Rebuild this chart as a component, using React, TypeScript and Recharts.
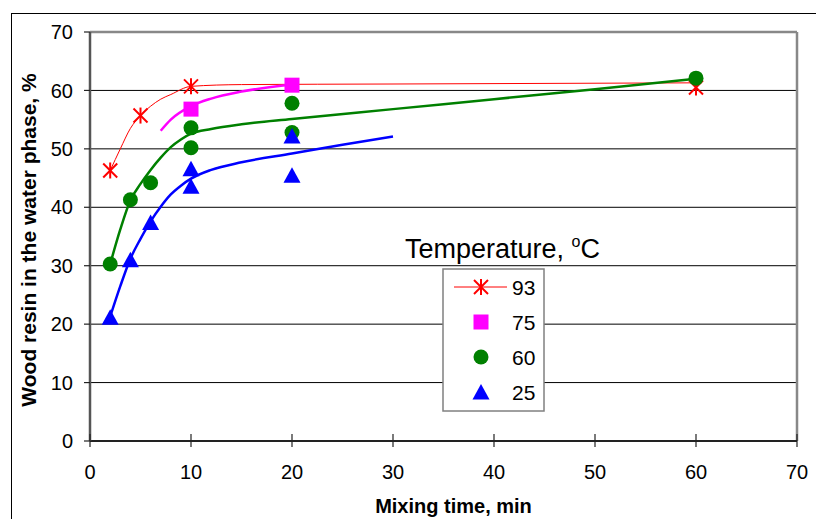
import React from "react";
import {
  ComposedChart,
  Line,
  Scatter,
  XAxis,
  YAxis,
  CartesianGrid,
  ReferenceLine,
} from "recharts";

// Measured points (marker series)
const time93 = [2, 5, 10, 60];
const resin93 = [46.3, 55.7, 60.7, 60.5];
const time75 = [10, 20];
const resin75 = [56.8, 60.9];
const time60 = [2, 4, 6, 10, 10, 20, 20, 60];
const resin60 = [30.3, 41.3, 44.2, 53.6, 50.2, 57.8, 52.8, 62.1];
const time25 = [2, 4, 6, 10, 10, 20, 20];
const resin25 = [21.2, 31.0, 37.4, 46.6, 43.6, 52.2, 45.5];

// Fitted trend curves
const fitTime93 = [2, 3, 4, 5, 6, 7, 8, 10, 15, 30, 60];
const fitResin93 = [46.3, 50.0, 53.5, 55.7, 57.3, 58.5, 59.3, 60.7, 61.0, 61.1, 61.3];
const fitTime75 = [7, 8, 10, 12, 15, 20];
const fitResin75 = [53.1, 55.0, 57.3, 58.6, 59.8, 61.0];
const fitTime60 = [2, 3, 4, 5, 6, 7, 8, 9, 10, 12, 15, 20, 30, 40, 50, 60];
const fitResin60 = [30.3, 36.2, 41.2, 44.0, 46.4, 48.5, 50.3, 51.6, 52.6, 53.4, 54.2, 55.1, 56.8, 58.5, 60.2, 62.0];
const fitTime25 = [2, 3, 4, 5, 6, 7, 8, 9, 10, 12, 15, 20, 25, 30];
const fitResin25 = [21.3, 26.5, 31.2, 34.6, 37.6, 40.1, 42.2, 43.7, 44.9, 46.4, 47.7, 49.2, 50.7, 52.1];

const xTicks = [0, 10, 20, 30, 40, 50, 60, 70];
const yTicks = [0, 10, 20, 30, 40, 50, 60, 70];
const legendLabels = ["93", "75", "60", "25"];

const zip = (xs: number[], ys: number[]) => xs.map((x, i) => ({ x, y: ys[i] }));

const pts93 = zip(time93, resin93);
const pts75 = zip(time75, resin75);
const pts60 = zip(time60, resin60);
const pts25 = zip(time25, resin25);
const fit93 = zip(fitTime93, fitResin93);
const fit75 = zip(fitTime75, fitResin75);
const fit60 = zip(fitTime60, fitResin60);
const fit25 = zip(fitTime25, fitResin25);

const RED = "#ff0000";
const MAGENTA = "#ff00ff";
const GREEN = "#008000";
const BLUE = "#0000ff";
const FONT = "'Liberation Sans', Arial, sans-serif";

const Star = (cx: number, cy: number) => (
  <g stroke={RED} strokeWidth={2} fill="none">
    <line x1={cx} y1={cy - 8} x2={cx} y2={cy + 8} />
    <line x1={cx - 7} y1={cy - 7} x2={cx + 7} y2={cy + 7} />
    <line x1={cx - 7} y1={cy + 7} x2={cx + 7} y2={cy - 7} />
  </g>
);
const Square = (cx: number, cy: number) => (
  <rect x={cx - 7.5} y={cy - 7.5} width={15} height={15} fill={MAGENTA} />
);
const Circle = (cx: number, cy: number) => <circle cx={cx} cy={cy} r={7.5} fill={GREEN} />;
const Tri = (cx: number, cy: number) => (
  <polygon
    points={`${cx},${cy - 8} ${cx + 8.5},${cy + 7.5} ${cx - 8.5},${cy + 7.5}`}
    fill={BLUE}
  />
);

const shapeOf = (fn: (cx: number, cy: number) => React.ReactElement) => (p: any) =>
  fn(p.cx, p.cy);

const X_MARGIN = 24;
const XTick = (props: any) => {
  const { x, y, payload } = props;
  const axisY = y - X_MARGIN;
  return (
    <g>
      <line x1={x} y1={axisY - 7} x2={x} y2={axisY + 6} stroke="#222" strokeWidth={1.2} />
      <text
        x={x}
        y={y}
        dy="0.71em"
        textAnchor="middle"
        fontSize={20}
        fontFamily={FONT}
        fill="#000"
      >
        {payload.value}
      </text>
    </g>
  );
};

export default function App() {
  return (
    <div
      style={{
        position: "absolute",
        left: 0,
        top: 0,
        width: 816,
        height: 519,
        overflow: "hidden",
        background: "#fff",
      }}
    >
      <div
        style={{
          position: "absolute",
          left: 11,
          top: 13,
          width: 900,
          height: 600,
          border: "1.5px solid #000",
        }}
      />
      <div style={{ position: "absolute", left: 0, top: 0 }}>
        <ComposedChart
          width={816}
          height={519}
          margin={{ top: 32, right: 19, bottom: 38, left: 30 }}
        >
          <CartesianGrid vertical={false} stroke="#000" strokeWidth={1} />
          <XAxis
            type="number"
            dataKey="x"
            domain={[0, 70]}
            ticks={xTicks}
            interval={0}
            height={40}
            tickSize={0}
            tickMargin={X_MARGIN}
            tick={<XTick />}
            axisLine={{ stroke: "#222", strokeWidth: 2 }}
            allowDataOverflow
            label={{
              value: "Mixing time, min",
              position: "bottom",
              offset: 18,
              fontSize: 20,
              fontWeight: "bold",
              fontFamily: FONT,
              fill: "#000",
              dx: 10,
            }}
          />
          <YAxis
            type="number"
            dataKey="y"
            domain={[0, 70]}
            ticks={yTicks}
            interval={0}
            width={60}
            tickSize={6}
            tickMargin={11}
            tick={{ fontSize: 20, fontFamily: FONT, fill: "#000" }}
            tickLine={{ stroke: "#222", strokeWidth: 1.2 }}
            axisLine={{ stroke: "#555", strokeWidth: 2.5 }}
            allowDataOverflow
            label={{
              content: () => (
                <text
                  x={36}
                  y={240}
                  transform="rotate(-90 36 240)"
                  textAnchor="middle"
                  fontSize={21}
                  fontWeight="bold"
                  fontFamily={FONT}
                  fill="#000"
                >
                  Wood resin in the water phase, %
                </text>
              ),
            }}
          />
          <ReferenceLine y={70} stroke="#888" strokeWidth={2.5} />
          <ReferenceLine x={70} stroke="#888" strokeWidth={2.5} />

          <Line
            data={fit93}
            dataKey="y"
            type="monotone"
            stroke={RED}
            strokeWidth={1}
            dot={false}
            activeDot={false}
            isAnimationActive={false}
          />
          <Line
            data={fit75}
            dataKey="y"
            type="monotone"
            stroke={MAGENTA}
            strokeWidth={2.5}
            dot={false}
            activeDot={false}
            isAnimationActive={false}
          />
          <Line
            data={fit60}
            dataKey="y"
            type="monotone"
            stroke={GREEN}
            strokeWidth={2.5}
            dot={false}
            activeDot={false}
            isAnimationActive={false}
          />
          <Line
            data={fit25}
            dataKey="y"
            type="monotone"
            stroke={BLUE}
            strokeWidth={2.5}
            dot={false}
            activeDot={false}
            isAnimationActive={false}
          />

          <Scatter data={pts93} dataKey="y" shape={shapeOf(Star)} isAnimationActive={false} />
          <Scatter data={pts75} dataKey="y" shape={shapeOf(Square)} isAnimationActive={false} />
          <Scatter data={pts60} dataKey="y" shape={shapeOf(Circle)} isAnimationActive={false} />
          <Scatter data={pts25} dataKey="y" shape={shapeOf(Tri)} isAnimationActive={false} />
        </ComposedChart>
      </div>
      <svg
        width={816}
        height={519}
        style={{ position: "absolute", left: 0, top: 0, pointerEvents: "none" }}
      >
        <text x={405} y={258} fontSize={27} fontFamily={FONT} fill="#000">
          Temperature,{" "}
          <tspan fontSize={16} dy={-11}>
            o
          </tspan>
          <tspan fontSize={27} dy={11}>
            C
          </tspan>
        </text>
        <rect x={443} y={269} width={101} height={142} fill="#fff" stroke="#808080" strokeWidth={1.5} />
        <line x1={454} y1={287} x2={507} y2={287} stroke={RED} strokeWidth={1} />
        {Star(481, 287)}
        {Square(481, 322)}
        {Circle(481, 357)}
        {Tri(481, 392)}
        {legendLabels.map((t, i) => (
          <text
            key={t}
            x={512}
            y={287 + i * 35}
            dy="0.36em"
            fontSize={21}
            fontFamily={FONT}
            fill="#000"
          >
            {t}
          </text>
        ))}
      </svg>
    </div>
  );
}
